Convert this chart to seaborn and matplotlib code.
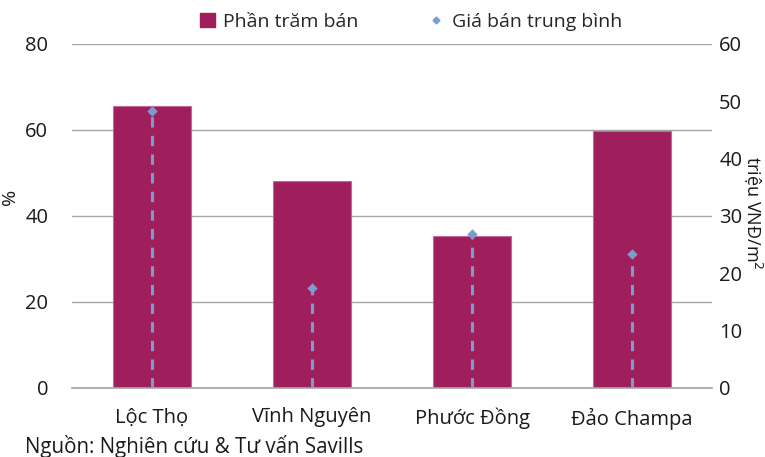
import matplotlib.pyplot as plt
import numpy as np
import pandas as pd
import seaborn as sns
from matplotlib.lines import Line2D
from matplotlib.patches import Patch

# Datos
khu_vuc = ["Lộc Thọ", "Vĩnh Nguyên", "Phước Đồng", "Đảo Champa"]
phan_tram_ban = [65.6, 48.2, 35.3, 59.7]      # %
gia_ban_tb = [48.3, 17.4, 26.9, 23.3]         # triệu VNĐ/m2

mau_cot = "#9E1F5B"
mau_gia = "#7B9CD0"
mau_luoi = "#A6A6A6"
mau_chu = "#1A1A1A"

sns.set_theme(style="white")
plt.rcParams["font.family"] = ["Open Sans", "DejaVu Sans"]

df = pd.DataFrame({"khu_vuc": khu_vuc, "phan_tram": phan_tram_ban, "gia": gia_ban_tb})

fig = plt.figure(figsize=(7.65, 4.57), dpi=100)
ax = fig.add_axes([0.094, 0.151, 0.837, 0.753])

sns.barplot(data=df, x="khu_vuc", y="phan_tram", color=mau_cot, width=0.49,
            edgecolor="#C5679A", linewidth=0.8, saturation=1, ax=ax, zorder=2)
ax.set_ylim(0, 80)
ax.set_yticks([0, 20, 40, 60, 80])
ax.set_xlim(-0.5, 3.5)
ax.grid(axis="y", color=mau_luoi, linewidth=1, zorder=0)
ax.set_axisbelow(True)
for s in ["top", "right", "left"]:
    ax.spines[s].set_visible(False)
ax.spines["bottom"].set_color(mau_luoi)
ax.tick_params(axis="y", length=0, labelsize=14.5, pad=17, colors=mau_chu)
ax.tick_params(axis="x", which="major", length=0, labelsize=14.5, pad=14, colors=mau_chu)
ax.set_xticks(np.arange(-0.5, 4, 1), minor=True)
ax.tick_params(axis="x", which="minor", length=7, color=mau_luoi, width=1, direction="out")
ax.set_xlabel("")
ax.set_ylabel("%", fontsize=14, color=mau_chu)
ax.yaxis.set_label_coords(-0.083, 0.555)

ax2 = ax.twinx()
ax2.set_ylim(0, 60)
ax2.set_yticks([0, 10, 20, 30, 40, 50, 60])
x_pos = np.arange(len(khu_vuc))
ax2.vlines(x_pos, 0, gia_ban_tb, colors=mau_gia, linestyles=(0, (3.4, 2.7)), linewidth=2.2, zorder=3)
sns.scatterplot(x=x_pos, y=gia_ban_tb, marker="D", s=24, color=mau_gia,
                edgecolor=mau_gia, ax=ax2, zorder=4, legend=False)
for s in ["top", "right", "left", "bottom"]:
    ax2.spines[s].set_visible(False)
ax2.tick_params(axis="y", length=0, labelsize=14.5, pad=5, colors=mau_chu)
ax2.set_ylabel("triệu VNĐ/m$^2$", fontsize=13, rotation=270, color=mau_chu, va="center")
ax2.yaxis.set_label_coords(1.063, 0.51)

handles = [Patch(facecolor=mau_cot, edgecolor=mau_cot),
           Line2D([], [], marker="D", linestyle="none", color=mau_gia, markersize=3.5)]
fig.legend(handles, ["Phần trăm bán", "Giá bán trung bình"], loc="center",
           bbox_to_anchor=(0.537, 0.952), ncol=2, frameon=False, fontsize=14,
           handlelength=0.8, handletextpad=0.4, columnspacing=3.6)

fig.text(0.033, 0.024, "Nguồn: Nghiên cứu & Tư vấn Savills", fontsize=14.8,
         color=mau_chu, va="center")

fig.savefig("out.png", dpi=100)
